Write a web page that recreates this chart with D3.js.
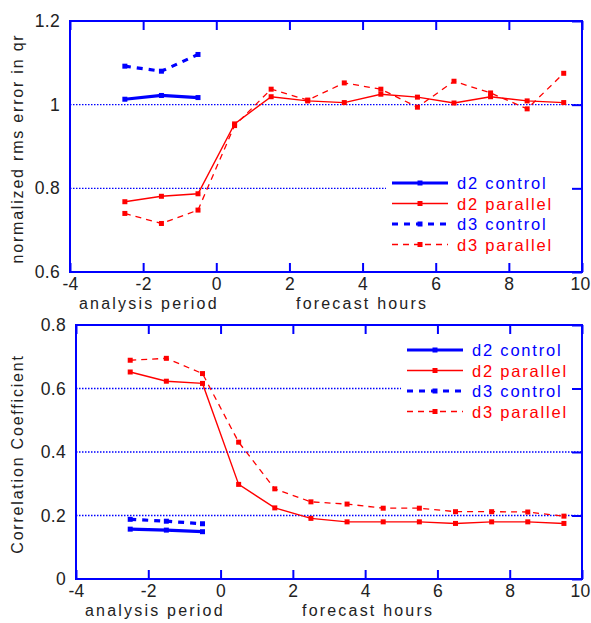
<!DOCTYPE html>
<html>
<head>
<meta charset="utf-8">
<script src="https://d3js.org/d3.v7.min.js"></script>
<style>
  body { margin: 0; background: #fff; }
  svg { display: block; font-family: Arial, "Liberation Sans", sans-serif; }
  .lbl { letter-spacing: 1.8px; }
  .xl { letter-spacing: 2.2px; }
</style>
</head>
<body>
<div id="chart"></div>
<script>
// ---- data ----
var hours = [-2.5, -1.5, -0.5, 0.5, 1.5, 2.5, 3.5, 4.5, 5.5, 6.5, 7.5, 8.5, 9.5];
var analysisHours = [-2.5, -1.5, -0.5];

// top panel: normalized rms error in qr
var rmsD2Control  = [1.013, 1.022, 1.017];
var rmsD3Control  = [1.092, 1.080, 1.120];
var rmsD2Parallel = [0.768, 0.781, 0.787, 0.954, 1.019, 1.009, 1.005, 1.025, 1.018, 1.004, 1.019, 1.009, 1.005];
var rmsD3Parallel = [0.740, 0.716, 0.748, 0.950, 1.037, 1.011, 1.052, 1.037, 0.994, 1.056, 1.028, 0.990, 1.075];

// bottom panel: correlation coefficient
var corD2Control  = [0.157, 0.154, 0.149];
var corD3Control  = [0.188, 0.182, 0.174];
var corD2Parallel = [0.652, 0.623, 0.616, 0.298, 0.224, 0.191, 0.180, 0.180, 0.180, 0.175, 0.180, 0.180, 0.175];
var corD3Parallel = [0.689, 0.695, 0.647, 0.431, 0.284, 0.243, 0.236, 0.223, 0.223, 0.212, 0.212, 0.211, 0.198];

var xTicks = [-4, -2, 0, 2, 4, 6, 8, 10];
var rmsTicks = [0.6, 0.8, 1, 1.2];
var rmsGrid = [0.8, 1];
var corTicks = [0, 0.2, 0.4, 0.6, 0.8];
var corGrid = [0.2, 0.4, 0.6];
var legendNames = ["d2 control", "d2 parallel", "d3 control", "d3 parallel"];

var BLUE = "#0000ff", RED = "#ff0000", INK = "#222";

var svg = d3.select("#chart").append("svg").attr("width", 591).attr("height", 623);

// line styles for the four series (same order as legendNames)
var styles = [
  {color: BLUE, width: 3.2, dash: null},
  {color: RED,  width: 1.4, dash: null},
  {color: BLUE, width: 3.2, dash: "6,6"},
  {color: RED,  width: 1.3, dash: "6,5"}
];

// plain hyphen for negatives, like the original
function fmtTick(d) {
  if (d === 0 || d === 1 || Math.abs(d) >= 2) return String(d);
  return d.toFixed(1);
}

function panel(opt) {
  var x = d3.scaleLinear().domain([-4, 10]).range([opt.left, opt.right]);
  var y = d3.scaleLinear().domain(opt.domain).range([opt.bottom, opt.top]);
  var g = svg.append("g");

  // dotted gridlines
  g.selectAll("line.grid").data(opt.grid).enter().append("line")
    .attr("class", "grid")
    .attr("x1", opt.left).attr("x2", opt.right)
    .attr("y1", function(d){ return y(d); }).attr("y2", function(d){ return y(d); })
    .attr("stroke", BLUE).attr("stroke-width", 1.3).attr("stroke-dasharray", "1.5,1.5");

  // series
  var series = [
    {xs: analysisHours, ys: opt.series[0]},
    {xs: hours, ys: opt.series[1]},
    {xs: analysisHours, ys: opt.series[2]},
    {xs: hours, ys: opt.series[3]}
  ];
  var line = d3.line().x(function(d){ return x(d[0]); }).y(function(d){ return y(d[1]); });
  series.forEach(function(s, i){
    var pts = s.xs.map(function(h, j){ return [h, s.ys[j]]; });
    var st = styles[i];
    g.append("path").datum(pts)
      .attr("d", line).attr("fill", "none")
      .attr("stroke", st.color).attr("stroke-width", st.width)
      .attr("stroke-dasharray", st.dash);
    g.selectAll(null).data(pts).enter().append("rect")
      .attr("x", function(d){ return x(d[0]) - 2.5; })
      .attr("y", function(d){ return y(d[1]) - 2.5; })
      .attr("width", 5).attr("height", 5)
      .attr("fill", st.color);
  });

  // legend with white box hiding the gridline
  var lg = g.append("g");
  lg.append("rect")
    .attr("x", opt.legend[0] - 6).attr("y", opt.legend[1] - 12)
    .attr("width", opt.right - opt.legend[0] + 5).attr("height", 82)
    .attr("fill", "#fff");
  legendNames.forEach(function(name, i){
    var st = styles[i];
    var ly = opt.legend[1] + i * 20.5;
    lg.append("line")
      .attr("x1", opt.legend[0]).attr("x2", opt.legend[0] + 56)
      .attr("y1", ly).attr("y2", ly)
      .attr("stroke", st.color).attr("stroke-width", st.width)
      .attr("stroke-dasharray", st.dash);
    lg.append("rect")
      .attr("x", opt.legend[0] + 28 - 2.5).attr("y", ly - 2.5)
      .attr("width", 5).attr("height", 5).attr("fill", st.color);
    lg.append("text").attr("class", "lbl")
      .attr("x", opt.legend[0] + 65).attr("y", ly + 6)
      .attr("fill", st.color).attr("font-size", 16.5)
      .text(name);
  });

  // frame
  g.append("rect")
    .attr("x", opt.left).attr("y", opt.top)
    .attr("width", opt.right - opt.left).attr("height", opt.bottom - opt.top)
    .attr("fill", "none").attr("stroke", BLUE).attr("stroke-width", 2);

  // bottom axis: inward ticks, labels below
  var bx = g.append("g").attr("transform", "translate(0," + opt.bottom + ")")
    .call(d3.axisBottom(x).tickValues(xTicks).tickSizeInner(-9).tickSizeOuter(0).tickPadding(13).tickFormat(fmtTick));
  // top axis: inward ticks only
  var tx = g.append("g").attr("transform", "translate(0," + opt.top + ")")
    .call(d3.axisTop(x).tickValues(xTicks).tickSizeInner(-9).tickSizeOuter(0).tickFormat(""));
  // left axis labels
  var ly2 = g.append("g").attr("transform", "translate(" + opt.left + ",0)")
    .call(d3.axisLeft(y).tickValues(opt.ticks).tickSize(0).tickPadding(10).tickFormat(fmtTick));
  // right axis: inward ticks
  var ry = g.append("g").attr("transform", "translate(" + opt.right + ",0)")
    .call(d3.axisRight(y).tickValues(opt.ticks).tickSizeInner(-10).tickSizeOuter(0).tickFormat(""));

  [bx, tx, ly2, ry].forEach(function(a){
    a.select(".domain").remove();
    a.selectAll(".tick line").attr("stroke", BLUE).attr("stroke-width", 2);
    a.selectAll("text").attr("fill", INK).attr("font-size", 17.5)
      .attr("font-family", "Arial, 'Liberation Sans', sans-serif")
      .style("letter-spacing", "0.3px");
  });
  bx.selectAll("text").attr("dy", "0.3em");
  // last label sits against the page edge
  bx.selectAll("text").filter(function(d){ return d === 10; }).attr("text-anchor", "end").attr("dx", 8);

  // x labels
  g.append("text").attr("class", "xl").attr("x", opt.left + 9).attr("y", opt.bottom + 37)
    .attr("fill", INK).attr("font-size", 16)
    .text("analysis period");
  g.append("text").attr("class", "xl").attr("x", 296 + (opt.left - 70)).attr("y", opt.bottom + 37)
    .attr("fill", INK).attr("font-size", 16)
    .text("forecast hours");

  // y label
  g.append("text").attr("class", "lbl")
    .attr("transform", "translate(23," + ((opt.top + opt.bottom) / 2 + 2) + ") rotate(-90)")
    .attr("text-anchor", "middle")
    .attr("fill", INK).attr("font-size", 16)
    .text(opt.ylabel);
}

panel({
  left: 70, right: 582, top: 21, bottom: 272,
  domain: [0.6, 1.2], ticks: rmsTicks, grid: rmsGrid,
  series: [rmsD2Control, rmsD2Parallel, rmsD3Control, rmsD3Parallel],
  legend: [392, 183],
  ylabel: "normalized rms error in qr"
});

panel({
  left: 76, right: 582, top: 325, bottom: 579,
  domain: [0, 0.8], ticks: corTicks, grid: corGrid,
  series: [corD2Control, corD2Parallel, corD3Control, corD3Parallel],
  legend: [407, 350],
  ylabel: "Correlation Coefficient"
});
</script>
</body>
</html>
